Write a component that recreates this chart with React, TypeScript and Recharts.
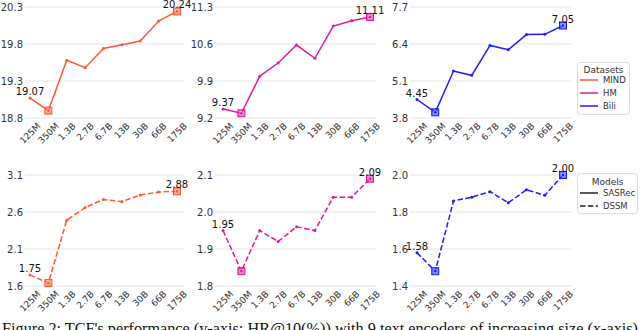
import { LineChart, Line, XAxis, YAxis, CartesianGrid } from 'recharts';

const sizes = ['125M', '350M', '1.3B', '2.7B', '6.7B', '13B', '30B', '66B', '175B'];

const mindSasrec = [19.07, 18.9, 19.58, 19.48, 19.74, 19.79, 19.84, 20.11, 20.24];
const hmSasrec = [9.37, 9.29, 9.99, 10.24, 10.58, 10.33, 10.94, 11.04, 11.11];
const biliSasrec = [4.45, 4.0, 5.45, 5.3, 6.35, 6.2, 6.73, 6.74, 7.05];
const mindDssm = [1.75, 1.64, 2.49, 2.66, 2.77, 2.74, 2.83, 2.87, 2.88];
const hmDssm = [1.95, 1.84, 1.95, 1.92, 1.96, 1.95, 2.04, 2.04, 2.09];
const biliDssm = [1.58, 1.48, 1.86, 1.88, 1.91, 1.85, 1.92, 1.89, 2.0];

const mindSasrecTicks = [18.8, 19.3, 19.8, 20.3];
const hmSasrecTicks = [9.2, 9.9, 10.6, 11.3];
const biliSasrecTicks = [3.8, 5.1, 6.4, 7.7];
const mindDssmTicks = [1.6, 2.1, 2.6, 3.1];
const hmDssmTicks = [1.8, 1.9, 2.0, 2.1];
const biliDssmTicks = [1.4, 1.6, 1.8, 2.0];

const datasets = ['MIND', 'HM', 'Bili'];
const models = ['SASRec', 'DSSM'];
const caption = "Figure 2: TCF's performance (y-axis: HR@10(%)) with 9 text encoders of increasing size (x-axis)";

const colors: Record<string, string> = { MIND: '#ff5733', HM: '#e0189a', Bili: '#1c1cff' };
const DASH = '5.5 2.4';
const FONT = '"DejaVu Sans", sans-serif';

// rough DejaVu Sans widths at 9px
const charW = (c: string) => (c === '.' ? 2.9 : c === 'M' ? 7.8 : c === 'B' ? 6.2 : 5.7);

const XTick = (props: any) => {
  const { x, y, payload } = props;
  const label = String(payload.value);
  const w = label.split('').reduce((s, c) => s + charW(c), 0);
  const cy = y + 4 + (w + 6.6) / (2 * Math.SQRT2);
  return (
    <text
      x={x}
      y={cy}
      dy="0.36em"
      textAnchor="middle"
      fontSize={9}
      fill="#333"
      transform={`rotate(-45 ${x} ${cy})`}
    >
      {label}
    </text>
  );
};

type PanelProps = {
  values: number[];
  ticks: number[];
  color: string;
  dashed?: boolean;
  left: number;
  top: number;
  marginR: number;
  padL: number;
  padR: number;
};

function Panel({ values, ticks, color, dashed, left, top, marginR, padL, padR }: PanelProps) {
  const data = sizes.map((s, i) => ({ size: s, v: values[i] }));
  const minI = values.indexOf(Math.min(...values));
  const maxI = values.indexOf(Math.max(...values));
  const last = values.length - 1;

  const renderDot = (p: any) => {
    const { cx, cy, index, value } = p;
    const v = Array.isArray(value) ? value[1] : value;
    const mark = index === minI || index === maxI;
    const showLabel = index === 0 || index === last;
    return (
      <g key={`d${index}`}>
        {mark && (
          <rect x={cx - 3.5} y={cy - 3.5} width={7} height={7} fill={color} fillOpacity={0.6} stroke={color} strokeWidth={1} />
        )}
        <circle cx={cx} cy={cy} r={mark ? 1.8 : 1.5} fill={color} stroke={mark ? '#fff' : 'none'} strokeWidth={0.5} />
        {showLabel && (
          <text x={cx} y={cy - 3} textAnchor="middle" fontSize={10} fill="#111">
            {Number(v).toFixed(2)}
          </text>
        )}
      </g>
    );
  };

  return (
    <div style={{ position: 'absolute', left, top }}>
      <LineChart width={190} height={150} data={data} margin={{ top: 7, right: marginR, bottom: 0, left: 0 }}>
        <CartesianGrid vertical={false} stroke="#e6e6e6" strokeWidth={1.2} />
        <XAxis
          dataKey="size"
          interval={0}
          axisLine={false}
          tickLine={false}
          tickSize={0}
          tickMargin={0}
          height={32}
          padding={{ left: padL, right: padR }}
          tick={XTick}
        />
        <YAxis
          domain={[ticks[0], ticks[ticks.length - 1]]}
          ticks={ticks}
          interval={0}
          width={25}
          axisLine={false}
          tickLine={false}
          tickSize={0}
          tickMargin={2}
          tick={{ fontSize: 10, fill: '#333' }}
          tickFormatter={(v: number) => v.toFixed(1)}
        />
        <Line
          type="linear"
          dataKey="v"
          stroke={color}
          strokeWidth={1.5}
          strokeDasharray={dashed ? DASH : undefined}
          dot={renderDot}
          activeDot={false}
          isAnimationActive={false}
        />
      </LineChart>
    </div>
  );
}

function Legends() {
  return (
    <svg width={640} height={330} style={{ position: 'absolute', left: 0, top: 0, pointerEvents: 'none' }}>
      <g fontFamily={FONT} fill="#333">
        <rect x={577.5} y={62.5} width={52} height={52} rx={3} fill="#fff" stroke="#dcdcdc" />
        <text x={603.5} y={72.5} textAnchor="middle" fontSize={9}>Datasets</text>
        {datasets.map((d, i) => (
          <g key={d}>
            <line x1={580} x2={598} y1={80 + i * 13} y2={80 + i * 13} stroke={colors[d]} strokeWidth={1.5} />
            <text x={603} y={83 + i * 13} fontSize={8.5}>{d}</text>
          </g>
        ))}
        <rect x={577.5} y={173.5} width={60} height={40} rx={3} fill="#fff" stroke="#dcdcdc" />
        <text x={607.5} y={185} textAnchor="middle" fontSize={9}>Models</text>
        {models.map((m, i) => (
          <g key={m}>
            <line
              x1={580}
              x2={598}
              y1={193 + i * 13}
              y2={193 + i * 13}
              stroke="#222"
              strokeWidth={1.5}
              strokeDasharray={i === 1 ? DASH : undefined}
            />
            <text x={603} y={196 + i * 13} fontSize={8.5}>{m}</text>
          </g>
        ))}
      </g>
      <text
        x={2}
        y={334}
        fontFamily='"Liberation Serif", serif'
        fontSize={17}
        fill="#111"
        textLength={636}
        lengthAdjust="spacingAndGlyphs"
      >
        {caption}
      </text>
    </svg>
  );
}

export default function App() {
  return (
    <div style={{ position: 'absolute', left: 0, top: 0, width: 640, height: 330, overflow: 'hidden', background: '#fff', fontFamily: FONT }}>
      <style>{'.recharts-surface, .recharts-wrapper { overflow: visible !important; }'}</style>
      <Panel values={mindSasrec} ticks={mindSasrecTicks} color={colors.MIND} left={0} top={0} marginR={6} padL={5} padR={7} />
      <Panel values={hmSasrec} ticks={hmSasrecTicks} color={colors.HM} left={190} top={0} marginR={3} padL={8} padR={7} />
      <Panel values={biliSasrec} ticks={biliSasrecTicks} color={colors.Bili} left={385} top={0} marginR={4} padL={7} padR={8} />
      <Panel values={mindDssm} ticks={mindDssmTicks} color={colors.MIND} dashed left={0} top={168} marginR={6} padL={5} padR={7} />
      <Panel values={hmDssm} ticks={hmDssmTicks} color={colors.HM} dashed left={190} top={168} marginR={3} padL={8} padR={7} />
      <Panel values={biliDssm} ticks={biliDssmTicks} color={colors.Bili} dashed left={385} top={168} marginR={4} padL={7} padR={8} />
      <Legends />
    </div>
  );
}
